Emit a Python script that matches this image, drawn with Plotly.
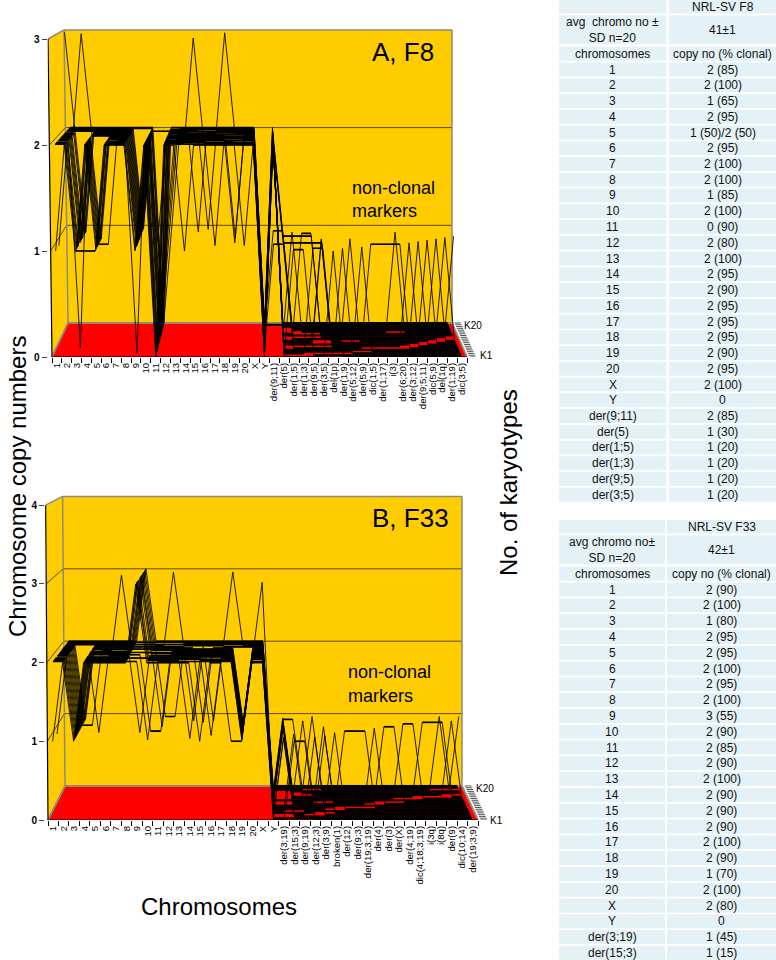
import plotly.graph_objects as go

W, H = 776, 960
FONT = "Liberation Sans"

# ---------- chart A data: one list per category, values for karyotypes K1..K20 ----------
F8_LABELS = [str(i) for i in range(1, 21)] + ["X", "Y", "der(9;11)", "der(5)", "der(1;5)", "der(1;3)",
             "der(9;5)", "der(3;5)", "del(1p)", "der(1;9)", "der(5;12)", "der(5;9)", "dic(1;5)",
             "der(1;17)", "i(3)", "der(6;20)", "der(3;12)", "der(9;5;11)", "dic(5;9)", "del(1q)",
             "der(1;19)", "dic(3;5)"]
F8_COPIES = [
    [1,2,2,2,1,2,2,2,2,2,2,2,2,2,3,2,2,2,2,2],
    [2,2,2,2,2,2,2,2,2,2,2,2,2,2,2,2,2,2,2,2],
    [1,1,1,1,1,0,1,1,1,1,1,3,1,1,1,2,2,2,2,2],
    [1,2,2,2,2,2,2,2,2,2,2,2,2,2,2,2,2,2,2,2],
    [1,1,1,1,1,1,1,1,1,1,2,2,2,2,2,2,2,2,2,2],
    [2,2,2,2,2,1,2,2,2,2,2,2,2,2,2,2,2,2,2,2],
    [2,2,2,2,2,2,2,2,2,2,2,2,2,2,2,2,2,2,2,2],
    [2,2,2,2,2,2,2,2,2,2,2,2,2,2,2,2,2,2,2,2],
    [1,1,0,1,1,1,1,1,1,1,1,1,1,1,1,1,1,1,2,2],
    [2,2,2,2,2,2,2,2,2,2,2,2,2,2,2,2,2,2,2,2],
    [0,0,0,0,0,0,0,1,0,0,0,0,0,0,0,2,0,0,0,0],
    [2,1,2,2,2,2,1,2,2,2,2,1,2,2,2,2,2,2,1,2],
    [2,2,2,2,2,2,2,2,2,2,2,2,2,2,2,2,2,2,2,2],
    [1,2,2,2,2,2,2,2,2,2,2,2,2,2,2,2,2,2,2,2],
    [2,2,3,2,2,2,2,2,2,2,2,2,2,2,1,2,2,2,2,2],
    [2,2,2,2,2,2,2,2,2,2,2,2,2,2,2,2,1,2,2,2],
    [2,2,2,2,1,2,2,2,2,2,2,2,2,2,2,2,2,2,2,2],
    [2,2,2,2,2,2,2,2,2,2,2,2,2,3,2,2,2,2,2,2],
    [2,2,2,2,2,2,1,2,2,2,1,2,2,2,2,2,2,2,2,2],
    [2,2,2,2,1,2,2,2,2,2,2,2,2,2,2,2,2,2,2,2],
    [2,2,2,2,2,2,2,2,2,2,2,2,2,2,2,2,2,2,2,2],
    [0,0,0,0,0,0,0,0,0,0,0,0,0,0,0,0,0,0,0,0],
    [2,2,2,2,2,1,2,2,2,2,2,2,2,2,2,1,2,2,0,2],
    [0,0,0,0,0,1,1,0,0,0,1,1,0,0,0,1,1,0,0,0],
    [0,1,0,0,0,0,1,0,0,0,0,1,0,0,1,0,0,0,0,0],
    [0,1,0,0,0,0,1,0,0,0,0,1,0,1,0,0,0,0,0,0],
    [0,0,1,0,0,0,1,0,0,0,0,1,0,1,0,0,0,0,0,0],
    [0,0,1,0,0,0,1,0,1,1,0,0,0,0,0,0,0,0,0,0],
    [1,0,0,0,0,0,0,0,0,0,0,0,0,0,0,0,0,0,0,0],
    [0,0,1,0,0,0,0,0,0,0,0,0,0,0,0,0,0,0,0,0],
    [0,0,0,0,0,0,0,0,0,1,0,0,0,0,0,0,0,0,0,0],
    [0,0,0,1,0,0,0,0,0,0,0,0,0,0,0,0,0,0,0,0],
    [0,0,0,0,0,1,0,0,0,0,0,0,0,0,0,0,0,0,0,0],
    [0,0,0,0,0,1,0,0,0,0,0,0,0,0,0,0,0,0,0,0],
    [0,0,0,0,0,1,0,0,0,0,0,0,0,0,0,0,0,0,0,0],
    [0,0,0,0,0,1,0,0,0,0,0,0,0,0,1,0,0,0,0,0],
    [0,0,0,0,0,0,1,0,0,0,0,0,0,0,0,0,0,0,0,0],
    [0,0,0,0,0,0,0,1,0,0,0,0,0,0,0,0,0,0,0,0],
    [0,0,0,0,0,0,0,0,1,0,0,0,0,0,0,0,0,0,0,0],
    [0,0,0,0,0,0,0,0,0,1,0,0,0,0,0,0,0,0,0,0],
    [0,0,0,0,0,0,0,0,0,0,1,0,0,0,0,0,0,0,0,0],
    [0,0,0,0,0,0,0,0,0,0,0,1,0,0,0,0,0,0,0,0],
]

# ---------- chart B data ----------
F33_LABELS = [str(i) for i in range(1, 21)] + ["X", "Y", "der(3;19)", "der(15;3)", "der(9;19)", "der(12;3)",
              "der(3;9)", "broken(1)", "der(12)", "der(9;3)", "der(19;3;19)", "der(4)", "der(3)", "der(X)",
              "der(4;19)", "dic(4;18;3;19)", "i(3q)", "i(8q)", "der(9)", "dic(10;14)", "der(19;3;9)"]
F33_COPIES = [
    [1,2,2,2,2,1,2,2,2,2,2,2,2,2,2,2,2,2,2,2],
    [2,2,2,2,2,2,2,2,2,2,2,2,2,2,2,2,2,2,2,2],
    [1,1,1,1,1,1,1,1,1,1,1,1,1,1,1,1,2,2,2,2],
    [2,2,2,2,2,2,2,2,2,2,2,1,2,2,2,2,2,2,2,2],
    [2,2,2,2,2,2,1,2,2,2,2,2,2,2,2,2,2,2,2,2],
    [2,2,2,2,2,2,2,2,2,2,2,2,2,2,2,2,2,2,2,2],
    [2,2,2,2,2,2,2,2,2,2,2,3,2,2,2,2,2,2,2,2],
    [2,2,2,2,2,2,2,2,2,2,2,2,2,2,2,2,2,2,2,2],
    [3,2,3,3,2,3,1,2,3,2,3,3,2,3,2,3,2,3,2,3],
    [2,1,2,2,2,2,2,1,2,2,2,2,2,2,2,2,2,2,2,2],
    [2,2,2,2,2,2,2,1,2,2,1,2,2,2,2,2,2,1,2,2],
    [2,2,2,2,2,2,2,2,2,2,2,2,2,2,2,3,2,1,2,2],
    [2,2,2,2,2,2,2,2,2,2,2,2,2,2,2,2,2,2,2,2],
    [2,2,1,2,2,2,2,2,2,2,2,2,2,2,1,2,2,2,2,2],
    [1,2,2,2,2,2,2,2,2,2,2,2,2,1,2,2,2,2,2,2],
    [2,2,2,2,1,2,2,2,2,2,2,2,2,2,1,2,2,2,2,2],
    [2,2,2,2,2,2,2,2,2,2,2,2,2,2,2,2,2,2,2,2],
    [1,2,2,2,2,2,2,2,2,2,2,2,2,2,2,3,2,2,2,2],
    [1,1,1,1,1,1,1,1,1,1,1,1,1,1,2,2,2,2,2,2],
    [2,2,2,2,2,2,2,2,2,2,2,2,2,2,2,2,2,2,2,2],
    [2,2,3,2,2,2,2,2,2,2,2,2,2,2,2,2,2,2,2,2],
    [0,0,0,0,0,0,0,0,0,0,0,0,0,0,0,0,0,0,0,0],
    [0,0,1,1,0,0,0,0,0,1,1,0,1,1,1,1,1,0,0,0],
    [1,0,0,0,0,1,0,0,0,0,0,0,0,0,0,1,0,0,0,0],
    [1,0,0,0,0,0,0,0,0,0,0,0,0,0,1,0,0,0,0,0],
    [0,0,0,1,0,0,0,0,0,0,0,0,0,0,0,0,0,1,0,0],
    [0,0,0,0,1,0,0,0,0,0,1,0,0,0,0,0,0,0,0,0],
    [0,0,0,0,0,0,1,0,0,0,0,0,0,0,0,0,0,0,0,0],
    [0,0,0,0,0,0,0,1,0,0,0,0,0,0,0,0,0,0,0,0],
    [0,0,0,0,0,0,0,1,0,0,0,0,0,0,0,0,0,0,0,0],
    [0,0,0,0,0,0,0,1,0,0,0,0,0,0,0,0,0,0,0,0],
    [0,0,0,0,0,0,0,0,0,1,0,0,0,0,0,0,0,0,0,0],
    [0,0,0,0,0,0,0,0,0,0,1,0,0,0,0,0,0,0,0,0],
    [0,0,0,0,0,0,0,0,0,0,1,0,0,0,0,0,0,0,0,0],
    [0,0,0,0,0,0,0,0,0,0,0,0,1,0,0,0,0,0,0,0],
    [0,0,0,0,0,0,0,0,0,0,0,0,1,0,0,0,0,0,0,0],
    [0,0,0,0,0,0,0,0,0,0,0,0,0,1,0,0,0,0,0,0],
    [0,0,0,0,0,0,0,0,0,0,0,0,0,1,0,0,0,0,0,0],
    [0,0,0,0,0,0,0,0,0,0,0,0,0,1,0,0,0,1,0,0],
    [0,0,0,0,0,0,0,0,0,0,0,0,0,0,1,0,0,0,0,0],
    [0,0,0,0,0,0,0,0,0,0,0,0,0,0,0,0,0,1,0,0],
]

# ---------- table data ----------
F8_TABLE_HEAD = "NRL-SV F8"
F8_TABLE_AVG = ["avg  chromo no ±<br>SD n=20", "41±1"]
F8_ROWS = [str(i) for i in range(1, 21)] + ["X", "Y", "der(9;11)", "der(5)", "der(1;5)", "der(1;3)", "der(9;5)", "der(3;5)"]
F8_CLONAL = ["2 (85)", "2 (100)", "1 (65)", "2 (95)", "1 (50)/2 (50)", "2 (95)", "2 (100)", "2 (100)", "1 (85)",
             "2 (100)", "0 (90)", "2 (80)", "2 (100)", "2 (95)", "2 (90)", "2 (95)", "2 (95)", "2 (95)", "2 (90)",
             "2 (95)", "2 (100)", "0", "2 (85)", "1 (30)", "1 (20)", "1 (20)", "1 (20)", "1 (20)"]
F33_TABLE_HEAD = "NRL-SV F33"
F33_TABLE_AVG = ["avg chromo no±<br>SD n=20", "42±1"]
F33_ROWS = [str(i) for i in range(1, 21)] + ["X", "Y", "der(3;19)", "der(15;3)"]
F33_CLONAL = ["2 (90)", "2 (100)", "1 (80)", "2 (95)", "2 (95)", "2 (100)", "2 (95)", "2 (100)", "3 (55)",
              "2 (90)", "2 (85)", "2 (90)", "2 (100)", "2 (90)", "2 (90)", "2 (90)", "2 (100)", "2 (90)",
              "1 (70)", "2 (100)", "2 (80)", "0", "1 (45)", "1 (15)"]

GOLD, RED, EDGE, GRID = "#FFCC00", "#FF0000", "#8F8A78", "#5E4C00"
CELL = "#E4F1F6"
fig = go.Figure()


def px(x):
    return x / W


def py(y):
    return 1 - y / H


def note(x, y, text, size, angle=0, anchor="center", weight=None, color="#000"):
    font = dict(family=FONT, size=size, color=color)
    if weight:
        font["weight"] = weight
    fig.add_annotation(xref="paper", yref="paper", x=px(x), y=py(y), text=text, showarrow=False,
                       font=font, textangle=angle, xanchor=anchor, yanchor="middle")


def chart(sfx, labels, copies, x_front, x_right, y_zero, unit, back_left, back_right, back_y, back_unit,
          top_value, yticks, x_max, tilt_px):
    n = len(labels)
    per = (x_right - x_front) / n
    dl = (back_left - x_front) / per
    dr = (x_right - back_right) / per
    rise = (y_zero - back_y) / unit
    shrink = 1 - back_unit / unit
    tilt = tilt_px / per

    def pu(i, d, v):                       # i is a position in category units, d depth 0..1
        t = i / n
        left = dl * d
        right = n - dr * d
        return left + t * (right - left) - (1 - t) * tilt * v

    def pv(d, v):
        return rise * d + v * (1 - shrink * d)

    x0 = x_front - tilt_px * top_value - 0.5
    y_top = back_y - back_unit * top_value - 6
    xa = "x" + sfx
    ya = "y" + sfx
    fig.update_layout({
        "xaxis" + sfx: dict(domain=[px(x0), px(x_max)], range=[(x0 - x_front) / per, (x_max - x_front) / per],
                            tickmode="array", tickvals=[i + 0.5 for i in range(n)], ticktext=labels, ticks="",
                            tickangle=-90, showgrid=False, zeroline=False, showline=False, anchor="y" + sfx,
                            tickfont=dict(family=FONT, size=9.6, color="#000"), ticklabelstandoff=3,
                            minor=dict(tickmode="array", tickvals=list(range(n + 1)), ticks="outside",
                                       ticklen=5, tickwidth=1, tickcolor="#000", showgrid=False)),
        "yaxis" + sfx: dict(domain=[py(y_zero), py(y_top)], range=[0, (y_zero - y_top) / unit], tickmode="array",
                            tickvals=yticks, ticktext=[str(v) for v in yticks], ticks="outside", ticklen=5,
                            tickcolor="#444", showgrid=False, zeroline=False, showline=False, anchor="x" + sfx,
                            tickfont=dict(family=FONT, size=10, color="#000", weight=700)),
    })

    def poly(points, fill):
        path = "M " + " L ".join(f"{pu(i, d, v):.4f},{pv(d, v):.4f}" for i, d, v in points) + " Z"
        fig.add_shape(type="path", path=path, xref=xa, yref=ya, fillcolor=fill, line_width=0, layer="below")

    def seg(a, b, color, width):
        fig.add_shape(type="line", xref=xa, yref=ya, x0=pu(*a), y0=pv(a[1], a[2]), x1=pu(*b), y1=pv(b[1], b[2]),
                      line=dict(color=color, width=width), layer="below")

    poly([(0, 0, 0), (0, 0, top_value), (0, 1, top_value), (0, 1, 0)], GOLD)
    poly([(0, 1, 0), (0, 1, top_value), (n, 1, top_value), (n, 1, 0)], GOLD)
    poly([(0, 0, 0), (0, 1, 0), (n, 1, 0), (n, 0, 0)], RED)
    for v in yticks[1:-1]:
        seg((0, 0, v), (0, 1, v), GRID, 1)
        seg((0, 1, v), (n, 1, v), GRID, 1)
    seg((0, 0, top_value), (0, 1, top_value), EDGE, 1.5)
    seg((0, 1, top_value), (n, 1, top_value), EDGE, 1.5)
    seg((0, 1, 0), (0, 1, top_value), EDGE, 1.5)
    seg((n, 1, 0), (n, 1, top_value), EDGE, 1.5)
    seg((0, 0, 0), (0, 1, 0), EDGE, 1.8)
    seg((0, 1, 0), (n, 1, 0), EDGE, 1.8)
    seg((n, 1, 0), (n, 0, 0), EDGE, 1.8)

    for k in range(20):
        d = k / 19
        xs = [pu(i + 0.5, d, copies[i][k]) for i in range(n)]
        ys = [pv(d, copies[i][k]) for i in range(n)]
        fig.add_trace(go.Scatter(x=xs, y=ys, mode="lines", line=dict(color="#000", width=0.85), xaxis=xa, yaxis=ya,
                                 showlegend=False, hoverinfo="skip", name=f"K{k + 1}"))
        # flat runs look heavier in the source: on the floor they merge into a solid sheet
        fx, fy, gx, gy = [], [], [], []
        for i in range(n - 1):
            if copies[i][k] == copies[i + 1][k]:
                if copies[i][k] == 0:
                    fx += [xs[i], xs[i + 1], None]
                    fy += [ys[i], ys[i + 1], None]
                else:
                    gx += [xs[i], xs[i + 1], None]
                    gy += [ys[i], ys[i + 1], None]
        fig.add_trace(go.Scatter(x=fx, y=fy, mode="lines", line=dict(color="#000", width=2.1), xaxis=xa, yaxis=ya,
                                 showlegend=False, hoverinfo="skip", name=f"K{k + 1} floor"))
        fig.add_trace(go.Scatter(x=gx, y=gy, mode="lines", line=dict(color="#000", width=1.6), xaxis=xa, yaxis=ya,
                                 showlegend=False, hoverinfo="skip", name=f"K{k + 1} flat"))

    # karyotype-axis ticks along the right edge of the floor
    tx, ty = [], []
    for k in range(20):
        d = k / 19
        base = pu(n, d, 0)
        tx += [base + 0.25, base + 0.9, None]
        ty += [pv(d, 0), pv(d, 0), None]
    fig.add_trace(go.Scatter(x=tx, y=ty, mode="lines", line=dict(color="#555", width=1), xaxis=xa, yaxis=ya,
                             showlegend=False, hoverinfo="skip", name="K ticks"))
    # front axis lines
    fig.add_shape(type="line", xref=xa, yref=ya, x0=0, x1=n, y0=0, y1=0, line=dict(color="#000", width=1.2))
    fig.add_shape(type="line", xref=xa, yref=ya, x0=pu(0, 0, 0), x1=pu(0, 0, top_value), y0=0, y1=top_value,
                  line=dict(color="#000", width=1.2))


chart("", F8_LABELS, F8_COPIES, 52, 467, 357, 106, 68, 452, 323, 97.7, 3, [0, 1, 2, 3], 492, 1.33)
chart("2", F33_LABELS, F33_COPIES, 48, 478, 820, 78.7, 65, 462, 786, 72.4, 4, [0, 1, 2, 3, 4], 503, 0.6)

note(403, 52, "A, F8", 26)
note(350, 188, "non-clonal", 18, anchor="left")
note(350, 211, "markers", 18, anchor="left")
note(462, 325, "K20", 10, anchor="left")
note(478, 355, "K1", 10, anchor="left")

note(410, 518, "B, F33", 26)
note(346, 672, "non-clonal", 18, anchor="left")
note(346, 696, "markers", 18, anchor="left")
note(474, 788, "K20", 10, anchor="left")
note(488, 820, "K1", 10, anchor="left")

note(17, 487, "Chromosome copy numbers", 24, angle=-90)
note(219, 906, "Chromosomes", 24)
note(508, 483, "No. of karyotypes", 24, angle=-90)


def table(head, avg, rows, clonal, xa0, xa1, xb0, xb1, head_box, avg_box, first_center, pitch):
    def cell(x0, x1, y0, y1, text, size=12):
        fig.add_shape(type="rect", xref="paper", yref="paper", x0=px(x0), x1=px(x1), y0=py(y0), y1=py(y1),
                      fillcolor=CELL, line_width=0, layer="below")
        if text:
            note((x0 + x1) / 2, (y0 + y1) / 2, text, size, color="#111")

    cell(xa0, xa1, *head_box, "")
    cell(xb0, xb1, *head_box, head)
    cell(xa0, xa1, *avg_box, avg[0])
    cell(xb0, xb1, *avg_box, avg[1])
    centers = [first_center - pitch + j * pitch for j in range(len(rows) + 1)]
    left = ["chromosomes"] + rows
    right = ["copy no (% clonal)"] + clonal
    for c, a, b in zip(centers, left, right):
        cell(xa0, xa1, c - 7, c + 7, a)
        cell(xb0, xb1, c - 7, c + 7, b)


table(F8_TABLE_HEAD, F8_TABLE_AVG, F8_ROWS, F8_CLONAL, 559, 666, 669, 776, (0, 13.5), (15.5, 44), 69.5, 15.75)
table(F33_TABLE_HEAD, F33_TABLE_AVG, F33_ROWS, F33_CLONAL, 559, 665, 667, 776, (520, 533.5), (535.5, 564), 589.5, 15.8)

fig.update_layout(width=W, height=H, margin=dict(l=0, r=0, t=0, b=0, autoexpand=False), paper_bgcolor="#fff",
                  plot_bgcolor="rgba(0,0,0,0)", showlegend=False, font=dict(family=FONT))
fig.write_html("out.html", config={"displayModeBar": False},
               post_script="document.body.style.margin='0';document.documentElement.style.overflow='hidden';")
